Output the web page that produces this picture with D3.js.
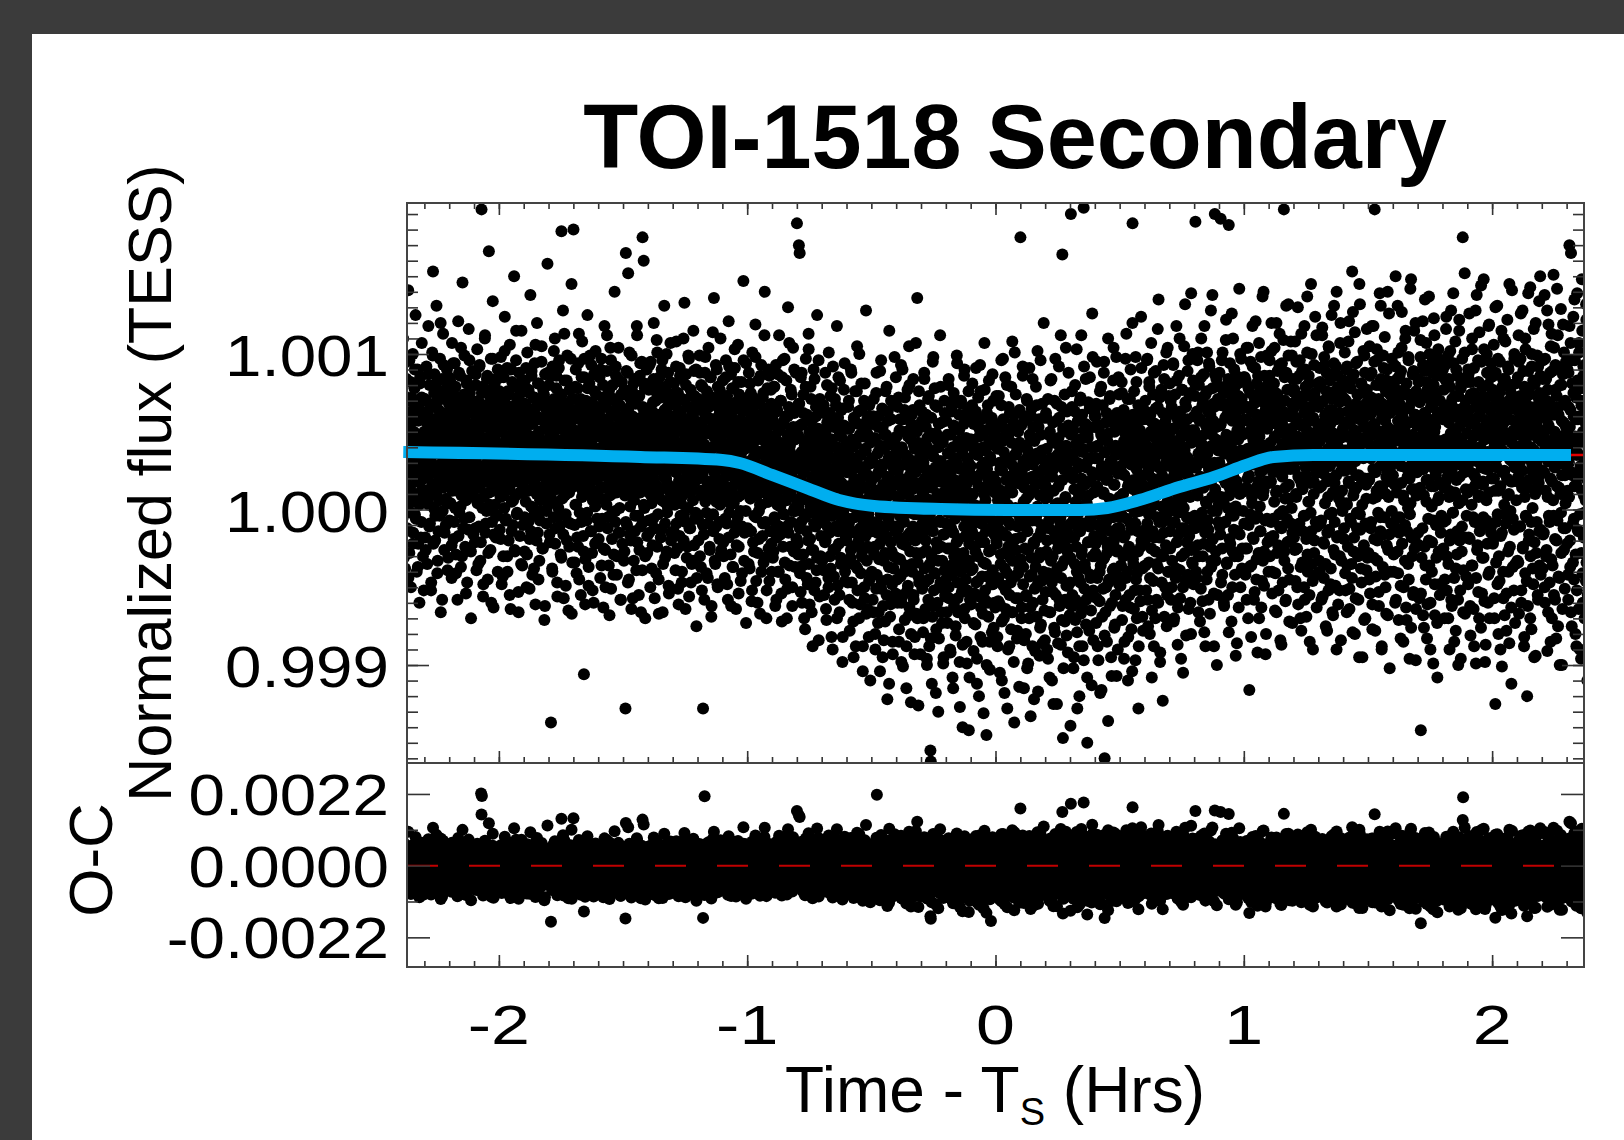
<!DOCTYPE html>
<html><head><meta charset="utf-8">
<script src="https://cdn.jsdelivr.net/npm/d3@7"></script>
<style>html,body{margin:0;padding:0;background:#3b3b3b;}svg{display:block}</style>
</head><body><svg id="c" width="1624" height="1140"></svg>
<script>
// ---------------- DATA ----------------
const titleText = "TOI-1518 Secondary";
// start time (hours from T_S) of each 0.1-h phase bin
const binStart = [-2.4,-2.3,-2.2,-2.1,-2.0,-1.9,-1.8,-1.7,-1.6,-1.5,-1.4,-1.3,-1.2,-1.1,-1.0,-0.9,-0.8,-0.7,-0.6,-0.5,-0.4,-0.3,-0.2,-0.1,0.0,0.1,0.2,0.3,0.4,0.5,0.6,0.7,0.8,0.9,1.0,1.1,1.2,1.3,1.4,1.5,1.6,1.7,1.8,1.9,2.0,2.1,2.2,2.3];
const binWidth = 0.1;
// normalized flux per bin, units of 1e-5 (flux = 1 + v*1e-5), in time order within the bin (cadence set A)
const fluxBinsA = [
[168,52,12,88,-20,41,65,30,-5,110,47,8,73,25,-38,60,19,95,38,-12,55,2,141,33,70,-28,45,15,82,-50,28,63,5,37,100,-15,50,22,78,-3,43,125,10,58,-40,35,90,18,-22,67,40,-60,30,85,7,48,-8,72,26,44,-30,61,20,36],
[30,71,-18,44,9,92,56,-35,21,63,118,3,39,80,-9,49,27,-52,66,14,101,35,153,-22,58,11,87,42,-4,24,69,131,17,-41,53,36,-14,76,6,47,97,29,-66,60,20,84,40,-1,113,33,57,-26,15,74,45,-10,62,26,90,4,50,-31,38,68],
[45,-7,83,20,61,34,-44,107,12,55,77,-19,40,26,94,1,58,-29,36,72,15,-58,49,121,30,64,-2,43,86,23,-37,52,9,70,146,38,-12,59,18,99,41,-24,66,6,31,81,-47,54,27,13,116,46,-5,75,22,39,-70,62,33,89,10,50,-16,28],
[64,14,-21,48,87,31,-39,57,103,4,41,70,-11,25,93,52,-33,19,257,193,250,36,79,-56,46,8,65,28,112,-15,43,60,-1,84,22,-45,55,38,166,11,73,30,-26,97,49,16,-8,68,134,35,-63,58,24,81,3,44,-18,71,27,53,-4,90,39,12],
[29,76,-13,50,8,98,42,-48,65,20,35,-30,85,54,1,124,32,68,-6,46,17,91,-40,58,37,-20,74,13,106,44,-64,27,61,5,82,39,-10,51,23,150,66,-27,34,9,96,48,-3,71,19,56,-53,40,88,26,-17,62,11,45,115,31,-36,78,15,52],
[57,21,-27,83,40,5,67,-50,33,101,12,48,-8,75,28,-19,62,138,44,2,89,36,-42,55,18,72,-4,31,94,47,-61,25,66,10,120,39,-15,58,81,22,-33,50,6,69,35,-1,105,43,14,-25,77,30,59,-71,41,87,16,53,-9,64,26,158,37,3],
[42,80,-16,27,55,9,-137,63,35,-38,92,18,49,-5,71,30,110,-22,44,13,86,56,-47,24,67,1,39,96,-11,52,20,-29,74,179,33,7,61,128,45,-57,28,83,15,50,-3,68,37,-20,99,25,58,-65,41,11,77,32,-9,54,22,145,46,-34,64,19],
[180,26,71,-10,48,3,90,34,-41,59,17,78,-24,40,113,22,-2,66,51,-55,31,85,8,44,62,-17,37,-106,97,14,53,-32,70,27,-7,46,125,19,64,-49,35,81,10,57,-14,29,93,42,-28,68,6,50,-60,24,76,38,2,102,55,-21,33,88,12,47],
[34,-19,62,85,21,-44,50,7,97,39,-6,72,28,-63,55,14,118,44,-26,66,31,3,89,48,-12,58,20,-36,77,41,9,104,25,-51,63,35,-2,80,16,53,-29,70,140,30,-8,92,45,11,-42,60,23,84,-15,38,67,1,49,-58,27,74,13,56,-22,43],
[51,18,-33,77,40,9,-128,165,28,63,-10,46,88,152,24,-45,57,35,2,71,-20,43,99,14,60,-57,31,81,6,49,-14,38,68,25,-39,54,112,19,73,-4,45,30,-26,86,11,59,-66,36,95,22,175,-8,65,160,41,1,78,-30,26,52,12,90,-17,47],
[22,65,-7,40,93,15,-50,58,31,4,82,47,-23,69,19,120,36,-12,53,8,76,-41,43,27,101,61,-3,34,-67,50,85,13,38,-18,72,29,6,96,45,-35,57,21,131,64,-9,33,79,48,-27,17,55,2,88,39,-54,70,26,11,107,44,-15,60,30,74],
[59,30,-14,81,45,3,67,-39,24,108,50,12,-25,75,36,-61,55,19,91,41,-4,63,28,-47,84,9,52,34,-20,70,133,16,46,-8,87,38,-31,58,22,1,99,43,-56,66,27,-12,77,14,49,-35,61,31,6,115,40,-23,73,18,54,-2,90,35,-44,48],
[37,-6,71,20,54,99,-30,46,12,80,31,-52,64,23,-128,57,-16,42,245,88,5,60,35,-41,76,18,49,-9,104,27,66,-24,39,8,85,52,-62,30,72,15,-3,58,136,41,-33,68,21,93,-11,47,26,-48,79,10,55,33,-19,62,3,110,44,-26,70,36],
[48,83,-21,30,61,7,-44,55,26,96,40,-9,73,14,-58,50,121,35,-2,68,22,-29,87,44,11,59,-37,32,78,4,53,-15,91,38,25,-64,65,17,47,-5,106,29,-24,74,42,9,57,-46,36,82,19,-11,63,28,147,51,-33,70,13,39,-1,94,24,56],
[40,-12,63,18,88,31,-38,52,7,75,25,-59,44,101,13,-21,66,34,-4,57,20,119,38,-46,70,9,48,-28,83,27,-1,54,15,-67,61,36,93,3,45,-17,72,23,-34,50,11,140,30,-8,65,42,-52,19,78,5,56,-25,37,86,16,-14,47,28,68,-40],
[25,58,-31,11,79,36,-5,47,-62,20,93,33,-18,64,8,-40,51,27,112,-11,43,2,70,30,-54,16,85,39,-24,55,13,-3,97,35,-45,60,6,24,-70,48,18,130,-15,66,29,-36,41,9,77,-8,52,21,-50,34,104,14,-27,62,1,45,-1,88,26,-19],
[184,30,-22,48,2,170,68,165,-41,19,85,-8,37,-60,55,11,-29,74,24,-3,44,-77,16,97,33,-14,61,6,-48,28,113,-35,50,14,-19,79,-2,38,-66,21,58,9,-26,90,31,-52,43,4,-11,66,25,-39,125,17,-6,52,-84,35,0,71,13,-30,46,20],
[12,-33,49,21,-8,67,-55,30,3,88,-20,41,-71,15,56,-2,34,-44,101,9,-15,62,26,-38,45,-4,78,18,-90,33,-26,53,6,-58,71,23,-11,40,-1,118,14,-49,59,28,-22,36,-66,83,5,-31,47,17,-7,65,-82,25,-13,54,2,94,-40,31,-18,43],
[-20,38,7,-47,66,15,-9,52,-78,26,-31,90,4,-14,45,-60,33,11,-95,58,20,-5,76,-36,42,-23,12,105,-52,29,-2,63,-70,18,48,-12,35,-41,81,1,-27,54,-88,24,-8,70,14,-57,39,-17,128,6,-33,49,-64,22,-3,60,-46,31,9,-110,44,-25],
[19,-40,55,-8,30,-66,71,3,-24,45,-90,12,-51,88,220,-15,36,-73,24,60,-32,8,-104,41,-2,96,-46,27,-19,53,-62,14,-84,39,5,-28,76,-11,48,-55,21,-122,63,-5,33,-37,115,10,-69,42,-21,58,-1,-48,28,-93,68,16,-30,44,-58,2,-14,85],
[-31,47,8,-60,25,-12,72,-85,36,-4,58,-43,15,-98,40,-22,90,3,-55,29,-8,64,-71,18,-36,50,-115,10,-17,77,-49,33,-2,105,-63,22,-27,45,-80,6,61,-40,13,-11,84,-58,31,-93,39,-20,52,-3,-67,26,136,-34,43,-126,1,-47,67,17,-15,35],
[42,-18,63,-51,11,-79,30,-5,88,-38,20,-64,53,-26,7,-100,46,-13,71,-45,24,-88,37,-3,-155,-162,59,-30,14,-69,95,-9,34,-52,2,78,-41,27,-118,49,-21,66,-60,9,-33,40,-83,18,-7,112,-47,31,-24,56,-73,4,45,-16,-95,23,70,-39,12,-56],
[-9,57,-44,21,-73,36,-2,84,-57,13,-25,48,-92,29,-36,66,5,-108,40,-15,75,-62,19,-4,52,-81,33,-28,99,-47,8,-66,44,-19,61,-1,-127,26,-40,70,12,-53,37,-87,3,-31,55,-11,90,-70,24,-45,46,-6,-99,17,63,-35,30,-142,-22,41,-58,9],
[28,-61,45,-14,81,-38,10,-91,55,-24,36,-5,-74,63,-47,19,-112,39,-30,72,2,-56,47,-18,93,-82,23,-9,58,-43,14,-67,40,-131,30,-21,77,-52,6,-35,51,-100,26,-3,67,-60,16,-27,44,-85,34,-12,-170,-48,59,-7,87,-39,21,-76,49,-16,11,-63],
[-45,18,73,-22,41,-88,6,-59,55,-13,30,-105,46,-35,12,67,-72,25,-4,97,-49,37,-28,-118,52,9,-64,33,-17,80,-41,3,-90,48,-8,21,-55,62,-31,15,-77,43,-1,108,-66,28,-20,56,-137,35,-43,1,74,-26,19,-83,39,-11,50,-57,26,-38,64,-6],
[175,-32,54,-70,23,-9,86,-48,31,-115,14,60,-25,41,-80,7,-56,70,-14,38,-99,20,-2,91,-43,47,-63,11,-31,65,-7,-88,29,53,-21,-122,44,-51,17,-37,79,-4,-69,36,102,-18,24,-46,58,-94,9,-28,48,-74,33,-10,68,-58,16,-40,120,-1,27,-84],
[16,-53,62,-27,39,-90,8,71,-41,25,-12,-108,50,-66,33,-3,84,-47,21,-30,56,-125,12,-76,43,-19,97,-55,29,-5,68,-38,4,-86,46,-22,59,-62,18,-9,112,-44,34,-71,164,-15,52,-102,26,-33,74,-58,7,-24,41,-81,63,-1,30,-49,88,-16,22,-68],
[-47,-139,190,35,-18,66,-62,24,-7,51,-95,13,-35,80,-58,42,-24,103,-79,30,-3,57,-44,9,-120,45,-14,72,-67,20,-29,61,-88,37,-9,194,92,-51,16,-38,55,-74,27,4,-108,48,-21,69,-56,33,-11,85,-42,18,-65,40,-1,126,-30,53,-84,23,-17,63],
[33,-28,60,-73,14,95,-44,41,-10,-97,52,22,-59,76,-2,-36,48,-116,28,-19,67,-51,10,88,-31,-160,37,-66,56,-8,19,-85,44,-24,110,-47,25,-4,71,-62,31,-14,58,-107,5,40,-39,83,-21,16,-76,50,-1,-55,35,98,-27,62,-12,-90,27,-43,74,8],
[-12,57,-49,28,-3,82,-71,40,10,-30,64,-96,22,-17,49,-58,35,113,-6,-40,71,15,-82,45,-24,54,2,-63,90,29,-13,37,-104,184,61,-35,19,76,-52,33,-9,98,-45,26,-70,43,8,-27,67,-88,17,-1,51,-59,30,124,-20,58,-38,12,-78,46,3,-15],
[45,-20,70,8,-52,33,96,-9,58,-75,25,-34,82,14,-44,61,-2,107,38,-65,20,-14,74,47,-88,30,3,55,-27,89,18,-58,42,-5,66,-38,135,27,-18,50,-98,36,11,77,-47,22,-8,62,-30,93,16,-69,40,-1,57,-23,101,31,-55,48,6,-40,73,19],
[28,81,-14,45,-58,17,66,-33,38,4,93,-72,52,23,-8,74,-44,31,118,-21,59,10,-63,42,-2,86,35,-39,63,16,-96,48,-12,77,27,-50,55,1,105,40,-28,69,13,-81,34,-5,58,22,-42,96,47,-17,73,8,-60,30,139,-26,51,19,-35,83,44,-11],
[51,-4,73,185,27,-40,62,12,96,-23,44,-66,80,33,-10,58,21,-51,110,39,-2,67,-30,15,87,48,-79,30,-15,74,5,55,-45,101,36,-7,63,-58,26,92,19,-24,50,128,-37,41,8,78,-19,57,29,-88,66,190,13,-33,45,84,-1,24,-55,70,38,3],
[30,88,-11,54,187,-47,67,22,-25,101,43,5,75,-62,36,-8,59,17,122,48,-34,80,26,-55,63,183,9,-19,94,40,-4,69,-72,33,57,-27,110,21,-13,78,46,-42,61,2,86,35,-86,51,14,-30,73,27,142,-16,56,-50,38,97,11,-38,65,31,-1,82],
[49,-9,85,31,-42,66,14,104,-25,57,39,-70,78,22,-116,50,-3,95,36,-36,63,8,118,-18,45,29,-58,72,11,91,-6,54,-45,81,40,-92,60,18,-28,107,47,2,-14,76,33,-63,58,25,137,-33,69,12,-49,86,41,-7,64,-80,28,99,52,-21,37,74],
[58,17,96,-30,43,71,-8,120,34,-54,80,24,-17,62,5,104,47,-41,75,29,-66,55,12,89,-23,67,38,-3,113,50,-84,31,70,-12,94,21,-47,63,40,193,-27,85,7,-59,52,131,26,-6,77,45,-38,99,16,-72,60,33,-20,108,48,1,68,-15,84,36],
[41,-18,75,26,108,-46,59,8,84,-25,47,130,-61,33,70,-9,96,19,-37,55,-78,42,89,13,-14,67,31,-50,118,38,-4,79,22,-69,51,101,-29,62,5,86,36,-55,73,17,-2,145,45,-35,66,28,-90,57,10,93,-20,49,71,-42,24,112,40,-11,81,30],
[66,24,-33,91,44,-9,79,15,-58,53,117,33,-21,70,-44,98,27,4,61,-75,47,88,18,-15,72,39,-52,104,29,-3,83,55,-38,20,125,64,-66,11,49,-26,94,36,-8,76,-49,58,22,140,-18,41,86,-61,31,7,69,-30,107,46,-84,25,78,12,-1,52],
[29,83,-12,56,101,-41,38,70,4,-66,92,47,-24,63,18,121,-51,35,-6,78,26,-35,60,153,-79,44,9,87,-18,51,114,31,-57,68,14,-2,95,40,-30,74,22,-95,58,132,-13,46,81,-47,36,3,65,-27,102,53,-71,20,88,-9,43,16,-39,77,34,62],
[47,-28,72,19,105,-54,61,33,-8,88,41,-77,54,7,118,36,-19,193,66,24,-43,80,12,96,-33,50,-2,71,-62,39,139,28,-14,84,46,-90,59,15,-37,99,31,65,-5,111,43,-50,76,21,-23,90,53,-68,35,8,126,-16,62,27,-40,82,48,-1,69,38],
[22,64,-40,93,35,-11,77,150,-58,49,11,84,-27,57,101,-71,30,68,-5,44,-49,89,17,127,-22,60,38,-85,74,6,52,-33,110,27,-63,81,43,-14,65,1,98,-45,56,20,-3,142,36,-76,70,13,-30,87,48,-53,25,115,-19,61,40,-97,76,9,54,31],
[55,-15,82,36,-57,69,14,98,-142,45,-31,73,26,121,-68,50,9,89,-24,62,33,-45,107,19,-83,77,40,-6,58,137,-36,28,71,-60,46,94,2,-21,66,31,-99,80,15,112,-48,53,24,-10,86,39,-73,61,6,103,-27,44,70,-55,17,91,35,-4,63,27],
[38,90,-25,61,14,-70,84,45,-7,116,30,-52,67,21,99,-35,56,8,-90,79,42,-16,128,25,-62,71,50,-2,94,33,-44,60,11,108,-78,48,19,-29,86,39,-58,73,4,122,-20,54,29,-96,81,44,-11,65,175,245,-39,57,24,101,-67,36,13,85,-4,49],
[62,11,-48,87,30,126,-19,55,-81,74,42,3,103,-36,58,23,-64,91,47,-8,70,16,-99,66,138,-26,51,35,-53,82,9,114,-14,60,40,-76,95,27,-31,73,18,-5,148,45,-59,69,31,-87,57,6,100,-22,48,80,-42,26,119,-70,64,37,-12,85,20,52],
[33,77,-20,59,106,-57,41,12,-125,88,-34,66,27,131,-3,52,-80,71,38,-46,95,15,-17,62,48,-101,79,24,-40,110,56,3,-68,84,36,-9,67,-54,20,122,45,-27,90,10,-86,58,32,-1,75,-63,43,141,18,-37,68,51,-13,97,28,-73,81,39,6,55],
[48,-33,85,21,112,-67,54,30,-11,97,41,-52,70,14,128,-24,60,36,-88,79,8,-41,103,45,-5,66,-120,33,-62,89,19,-16,74,52,143,-30,40,-77,92,25,1,63,-48,116,38,-21,81,13,-94,57,29,-8,99,46,-58,72,17,134,-36,51,86,-13,34,65],
[71,25,-38,96,47,-15,63,138,-60,40,12,84,-26,58,-91,77,31,119,-4,52,-47,68,20,105,-32,44,-70,89,37,6,151,-55,61,27,-19,93,48,-83,73,15,-7,112,42,-43,66,34,-100,80,10,129,-28,57,22,-64,87,46,-12,101,29,-51,70,4,53,39],
[44,-22,90,31,-58,66,8,170,53,-37,107,165,24,-75,81,39,-9,124,60,-45,15,96,47,-29,72,-88,35,139,-13,58,21,-64,101,43,-3,78,28,-96,67,12,115,-41,50,86,-18,33,-70,93,56,6,132,-34,63,19,-55,88,41,-11,74,26,-79,99,37,52]
];
// cadence set B, interleaved in time with set A (same units)
const fluxBinsB = [
[20,58,41,-9,77,33,6,52,-31,69,25,47,-14,84,38,11,60,-44,29,96,15,55,-2,43,72,27,-22,63,35,8,90,49,-6,31,66,18,-37,57,40,3,81,24,-18,46,107,13,62,36,-52,50],
[48,12,-26,70,34,59,5,87,22,-11,44,66,30,-47,53,16,99,39,1,75,28,-20,57,43,9,82,-33,36,64,19,-4,51,120,26,71,-58,41,14,93,33,-15,60,46,7,78,24,-39,55,37,85],
[31,73,4,49,-23,62,18,94,40,-8,56,27,79,-41,45,12,67,35,-17,88,22,53,2,104,38,-30,61,15,47,74,-6,29,57,-54,83,42,10,65,-13,36,96,24,51,-27,70,19,44,8,62,33],
[55,21,-12,80,39,7,63,28,-35,48,92,14,57,-21,36,75,1,44,-48,67,25,110,40,-9,53,18,86,31,-28,60,46,3,77,23,-60,51,34,97,12,-16,65,42,26,-3,84,37,58,-40,19,70],
[16,62,37,-19,85,29,50,-43,71,9,41,102,24,-7,58,33,-30,76,47,13,64,-55,38,21,90,-14,55,30,6,79,43,-26,67,18,115,35,-2,52,25,-66,73,40,11,60,-35,46,83,28,-10,56],
[42,-5,68,26,91,38,-29,54,12,77,45,-51,63,20,-14,86,33,58,1,47,-38,72,24,106,40,-20,60,15,81,-45,50,31,-7,69,22,95,36,-25,57,9,74,44,-62,28,65,-1,53,18,88,39],
[24,69,-21,48,13,86,37,-40,58,29,102,5,63,-12,45,78,20,-56,52,35,91,-4,41,67,16,-31,74,27,57,-16,38,113,9,60,-49,46,83,22,-8,65,33,-24,54,18,97,40,-67,71,28,50],
[51,15,-34,79,40,3,62,-18,45,94,27,-45,58,20,71,-8,36,108,12,53,-27,85,31,-61,66,23,47,-2,78,38,-37,56,14,99,42,-14,69,26,-52,61,7,87,34,-22,49,74,19,-6,57,30],
[39,-11,66,25,90,47,-36,55,14,80,-25,42,69,6,-50,58,32,112,21,-5,75,44,-68,50,27,96,10,-19,63,36,-42,71,18,53,-1,86,40,-30,60,23,104,45,-15,67,12,-58,49,82,29,56],
[60,22,-27,74,37,-8,89,46,13,-47,65,30,101,-16,52,20,-64,77,41,8,56,-33,84,27,-4,69,35,118,-21,48,15,-55,73,39,94,-11,58,24,-39,66,44,3,81,31,-70,50,18,62,-28,43],
[28,77,-15,52,10,95,41,-38,63,22,-6,84,47,-57,35,70,16,109,-24,54,31,-45,79,12,61,38,-13,90,25,-66,57,43,5,74,-31,49,20,100,-2,66,34,-49,58,15,82,39,-20,71,27,53],
[45,8,69,-28,55,31,92,-9,40,75,-51,62,18,-17,86,36,4,58,-40,71,27,110,-3,49,14,-64,80,42,23,-24,66,35,97,-12,52,11,-47,73,29,61,-33,44,89,20,-6,57,38,-75,68,25],
[33,-20,64,21,88,44,-37,53,9,79,-10,41,68,-58,27,98,36,-2,60,17,-44,74,30,50,-26,85,12,-69,58,39,114,-14,47,24,71,-35,56,5,90,31,-50,66,19,-8,77,42,-29,52,15,62],
[57,19,-30,73,36,-6,85,24,50,-48,66,11,-18,92,40,4,61,-62,30,78,15,-37,55,27,103,-10,44,69,-23,34,8,82,-54,57,21,48,-1,72,38,-41,63,13,96,29,-15,52,43,-73,67,26],
[21,64,-35,48,9,81,30,-14,56,-52,40,72,17,-27,61,33,98,-5,45,12,-60,68,26,-19,52,3,86,37,-40,59,20,-9,75,28,112,-31,47,14,-70,63,36,5,90,23,-46,54,11,77,-22,40],
[12,55,-27,34,79,-8,46,20,-58,63,3,87,29,-40,51,14,-16,70,38,-72,25,96,-3,57,18,-34,42,6,83,31,-51,60,-10,22,107,44,-24,36,9,74,-62,28,53,-1,90,15,-37,65,33,-19],
[5,46,-29,68,17,-12,54,-53,31,88,8,-36,62,24,-70,41,-5,79,13,-44,57,29,-20,103,36,-61,48,2,71,-26,20,-88,52,11,-9,84,33,-47,60,16,-31,45,-2,96,27,-56,39,9,-17,66],
[-8,41,18,-39,62,4,-21,50,-64,27,80,-11,36,-50,58,10,-30,73,22,-82,45,-4,92,15,-43,56,1,-25,67,32,-70,40,-14,85,19,-55,49,7,-35,64,26,-98,38,-1,77,12,-46,53,-18,30],
[24,-35,52,-6,70,-58,31,12,-26,88,-47,40,2,-72,59,18,-15,44,-88,27,76,-38,9,55,-20,100,-61,35,-3,64,-30,14,-104,47,22,-50,81,-9,38,-67,5,58,-24,29,-82,67,-12,43,17,-41],
[-14,33,-58,60,5,-29,46,-80,21,75,-42,12,-9,53,-66,38,-22,89,-3,-51,29,65,-95,16,-33,48,2,-72,41,-17,79,8,-45,57,-6,-112,34,20,-61,70,-27,10,-85,44,-38,26,98,-11,-54,37],
[30,-45,66,-18,8,-77,51,-32,20,93,-60,39,-7,-101,58,14,-40,72,-23,35,-88,11,-52,47,3,-68,80,-15,27,-124,55,-35,18,64,-55,41,-3,-82,24,107,-28,50,-70,6,-43,76,-12,33,-93,16],
[-28,57,-9,32,-70,12,84,-47,26,-20,61,-96,40,-4,-58,73,17,-35,49,-83,6,-112,36,-14,98,-62,22,-41,67,1,-77,45,-25,10,-130,55,-50,31,-8,79,-66,19,-33,43,-99,28,-16,62,-55,8],
[16,-66,48,-25,80,-50,2,37,-90,24,-12,63,-42,9,-115,54,-30,71,-6,-75,31,-21,94,-57,14,-36,51,-98,27,-3,68,-48,19,-140,40,-28,86,-64,7,-17,58,-85,33,-52,11,76,-33,-108,45,-10],
[-39,22,67,-16,44,-73,3,-54,59,-27,91,-8,-96,35,-46,15,-120,52,-21,76,-63,28,-2,-85,48,-34,10,107,-58,38,-14,-145,62,-43,20,-69,83,-5,-103,31,-26,55,-79,12,-48,70,-12,-60,41,0],
[52,-20,14,-82,39,-44,73,-7,-61,26,-29,96,-110,44,-15,58,-70,6,-38,85,-52,19,-3,-128,47,-24,66,-88,30,-10,-47,79,-66,11,-33,54,-98,23,101,-19,-57,36,-2,-78,62,-41,17,-114,43,-8],
[-18,41,-63,16,92,-37,5,-84,57,-11,28,-55,71,-102,34,-26,9,-70,48,-4,-133,60,-42,21,84,-60,13,-22,45,-91,32,-7,67,-49,2,-117,53,-31,24,-76,96,-14,-46,38,-86,18,-29,59,-65,10],
[7,-44,59,-20,31,-96,48,-7,-66,22,83,-33,12,-110,44,-53,26,-14,70,-79,3,-41,57,-125,35,-25,15,92,-58,40,-5,-87,66,-36,19,-147,50,-18,29,-72,8,104,-49,37,-27,-92,54,-10,23,-61],
[-31,48,-9,76,-55,20,-102,36,-18,63,-71,5,42,-40,-128,57,-12,27,-88,70,-47,14,112,-26,-63,39,2,-97,51,-35,18,84,-58,30,-150,46,-21,9,-78,65,-6,-44,33,-113,24,98,-52,11,-30,60],
[40,-22,68,-57,15,-88,33,-3,54,-40,-118,25,79,-14,-69,46,-32,11,95,-81,37,-8,-50,62,-28,20,-136,49,-45,7,73,-21,-95,30,-60,56,-5,104,-38,16,-74,41,-16,-107,58,-26,23,85,-48,4],
[-5,52,-36,24,75,-62,10,-18,44,-85,31,97,-44,4,60,-27,-110,39,17,-55,71,-9,33,-77,48,120,-32,13,-64,55,-2,-97,28,82,-41,39,-14,-128,63,21,-52,46,-24,91,6,-69,35,-37,58,15],
[22,-36,63,-12,41,97,-58,27,-3,79,-80,34,50,-25,-108,56,13,-46,88,-18,31,-70,65,9,-35,47,116,-60,19,-8,72,-92,38,-29,54,2,-123,43,-15,84,28,-50,61,-4,-75,36,104,-40,17,49],
[35,-25,70,12,-50,52,-9,94,28,-70,61,-1,40,-38,83,19,-87,57,-16,31,110,-57,46,4,-30,77,24,-105,55,-12,38,132,-45,66,9,-21,89,33,-64,50,-6,75,16,-80,43,-34,100,27,-48,60],
[48,-12,80,27,-44,63,9,101,36,-30,57,-72,20,85,-5,42,-59,70,14,-22,118,33,-88,54,4,76,-40,38,-13,94,25,-67,61,17,-33,48,138,-1,68,-54,30,87,11,-27,53,-100,40,71,-8,22],
[30,79,-16,55,8,96,-42,44,20,-60,68,36,-8,109,25,-35,61,1,84,-79,47,14,-22,74,40,126,-50,29,58,-4,90,-30,37,-94,66,18,-14,81,45,-63,53,10,100,-40,33,71,-25,48,12,85],
[58,12,-25,83,37,-58,66,20,104,-10,49,-37,75,29,-82,55,4,92,41,-19,68,-53,33,121,14,-32,61,-4,86,43,-70,52,24,-14,98,35,-46,72,9,140,-27,57,30,-93,64,18,-6,80,39,-40],
[40,86,-18,55,18,102,-40,67,28,-6,81,46,-65,59,11,120,-28,74,35,-52,49,93,-11,63,23,-87,56,42,-1,109,31,-33,70,14,-58,88,45,-21,61,132,7,-45,77,26,-9,52,99,-73,38,65],
[30,77,-26,58,10,95,41,-50,68,21,-11,86,35,-70,54,113,16,-34,73,45,-4,62,-58,90,27,-19,56,137,-40,39,81,5,-85,66,32,-14,100,48,-46,59,18,-28,75,124,-8,44,-63,70,24,52],
[55,14,-40,82,36,-7,69,112,-56,48,23,-22,93,60,-35,31,76,-78,52,8,105,-13,64,28,-48,87,43,-2,71,-68,38,131,17,-29,58,92,-90,46,11,-17,79,35,-52,62,120,4,-33,73,29,50],
[38,-19,71,25,-52,90,47,3,-36,63,108,17,-64,55,30,-8,84,-44,41,127,-27,66,12,-80,49,94,22,-12,74,36,-58,60,145,-3,43,-38,81,19,-95,57,33,-23,99,46,-70,68,7,116,-31,52],
[61,20,-45,86,37,-12,72,118,-61,48,26,-31,95,55,-78,35,8,103,-20,64,42,-53,80,15,-5,131,50,-88,68,29,-16,91,44,-42,57,10,-67,83,24,140,-26,62,39,-102,74,18,-9,97,51,33],
[44,-29,79,16,-60,92,51,-5,70,131,-41,33,-15,86,58,-83,28,104,-22,63,9,-50,77,38,-10,115,47,-71,56,21,-35,96,66,-96,40,4,148,-18,74,30,-55,89,13,-25,61,120,-64,46,24,55],
[31,84,-23,58,12,109,-54,71,40,-12,93,26,-76,62,135,-36,47,5,82,-61,54,19,-20,100,44,-90,66,15,-40,88,33,-7,123,50,-68,75,22,-31,59,-108,37,97,8,-48,70,28,-15,86,43,62],
[58,-8,77,30,-45,93,18,124,-30,61,42,-70,84,12,-20,102,49,-58,67,27,-2,139,36,-85,73,9,-38,90,52,-14,64,-100,45,115,21,-52,78,34,-27,97,6,-66,59,40,152,-18,70,-43,25,82],
[27,90,-18,64,35,-62,82,13,-36,110,47,-5,75,-88,56,21,128,-44,68,31,-23,96,8,-70,61,40,-11,144,52,-54,79,16,-31,103,45,-98,66,26,-7,88,37,-60,118,11,-40,73,49,-15,94,58],
[45,-22,86,20,-70,67,130,-8,54,33,-48,97,12,-30,75,42,-90,61,115,-15,38,84,-57,50,25,-3,108,62,-78,36,9,92,-40,70,145,-24,48,18,-112,80,31,-6,65,-52,100,27,-35,57,72,40],
[64,18,-34,95,40,-11,73,126,-60,51,25,-25,89,46,-82,34,110,-4,68,-46,57,14,139,-20,78,37,-70,61,-8,100,29,-38,83,48,-95,66,10,120,-28,55,32,-55,92,21,-14,75,150,-42,44,60],
[36,84,-16,60,24,-50,97,45,-30,70,128,8,-66,54,31,-8,88,-85,42,113,18,-36,66,-4,104,50,-58,77,28,-20,142,39,-75,61,14,-44,91,47,-2,80,-100,33,119,56,-26,69,22,-12,95,40],
[50,12,-42,88,30,118,-20,64,-66,41,96,22,-34,75,-6,135,46,-80,58,16,-52,83,36,-14,107,60,-90,27,70,-28,148,44,-60,92,9,-2,78,34,-46,122,55,-110,67,20,-22,86,40,-36,101,48]
];
// best-fit secondary eclipse model
const modelTime = [-2.385,-1.43,-1.10,-1.03,-0.90,-0.76,-0.63,-0.49,-0.22,0.05,0.34,0.45,0.58,0.74,0.88,1.01,1.12,1.28,2.37];
const modelFlux = [1.000370,1.000338,1.000318,1.000299,1.000222,1.000138,1.000061,1.000023,1.000003,0.999997,0.999997,1.000010,1.000061,1.000145,1.000209,1.000286,1.000338,1.000350,1.000350];
const modelDrawEnd = 2.318;
const xTickValues = [-2,-1,0,1,2];
const fluxTickValues = [0.999,1.000,1.001];
const ocTickValues = [-0.0022,0,0.0022];
const ocMinorTickValues = [-0.0011,0.0011];

// ---------------- LAYOUT ----------------
const L = 407, R = 1584, T = 203, M = 763, B = 967;
const FONT = "'Liberation Sans', Arial, Helvetica, sans-serif";
const DOT_R = 6;
const svg = d3.select("#c");
svg.append("rect").attr("x",0).attr("y",0).attr("width",1624).attr("height",1140).attr("fill","#3b3b3b");
svg.append("rect").attr("x",32).attr("y",34).attr("width",1592).attr("height",1106).attr("fill","#ffffff");

const x = d3.scaleLinear().domain([-2.37, 2.37]).range([L, R]);
const yUp = d3.scaleLinear().domain([0.99837, 1.001971]).range([M, T]);
const yLow = d3.scaleLinear().domain([-0.00311, 0.00315]).range([B, M]);
const model = d3.scaleLinear().domain(modelTime).range(modelFlux);

// build points (observed flux, and O-C = observed - model)
const points = [];
[fluxBinsA, fluxBinsB].forEach((set, s) => {
  set.forEach((vals, k) => {
    const n = vals.length;
    vals.forEach((v, i) => {
      const t = binStart[k] + (i + 0.25 + 0.5 * s) / n * binWidth;
      const f = 1 + v * 1e-5;
      points.push({t, f, oc: f - model(t)});
    });
  });
});

const defs = svg.append("defs");
defs.append("clipPath").attr("id","clipUp").append("rect").attr("x",L).attr("y",T).attr("width",R-L).attr("height",M-T);
defs.append("clipPath").attr("id","clipLow").append("rect").attr("x",L).attr("y",M).attr("width",R-L).attr("height",B-M);
defs.append("clipPath").attr("id","clipModel").append("rect").attr("x",0).attr("y",T).attr("width",x(modelDrawEnd)).attr("height",M-T);

// upper panel points
svg.append("g").attr("clip-path","url(#clipUp)")
  .selectAll("circle").data(points).join("circle")
  .attr("cx", d => x(d.t)).attr("cy", d => yUp(d.f)).attr("r", DOT_R).attr("fill","#000");

// model lines
const modelPts = modelTime.map((t,i) => [t, modelFlux[i]]);
const line = d3.line().x(d => x(d[0])).y(d => yUp(d[1])).curve(d3.curveMonotoneX);
svg.append("path").attr("d", line(modelPts)).attr("fill","none").attr("stroke","#e00000").attr("stroke-width",2.5)
  .attr("clip-path","url(#clipUp)");
svg.append("path").attr("d", line(modelPts)).attr("fill","none").attr("stroke","#00aeef").attr("stroke-width",12)
  .attr("clip-path","url(#clipModel)");

// lower panel points
svg.append("g").attr("clip-path","url(#clipLow)")
  .selectAll("circle").data(points).join("circle")
  .attr("cx", d => x(d.t)).attr("cy", d => yLow(d.oc)).attr("r", DOT_R).attr("fill","#000");
svg.append("line").attr("x1",L).attr("x2",R).attr("y1",yLow(0)).attr("y2",yLow(0))
  .attr("stroke","#c00000").attr("stroke-width",2).attr("stroke-dasharray","31,31");

// ---------------- AXES / TICKS ----------------
const tickColor = "#333";
function styleAxis(g){ g.select(".domain").remove(); g.selectAll("line").attr("stroke",tickColor).attr("stroke-width",1.6); g.selectAll("text").remove(); }
const xMinor = d3.range(-23, 24).map(v => v / 10);
const fluxMinor = d3.range(9984, 10020).map(v => v / 10000);

[[d3.axisTop, T], [d3.axisBottom, M], [d3.axisBottom, B]].forEach(([ax, yy]) => {
  svg.append("g").attr("transform",`translate(0,${yy})`).call(ax(x).tickValues(xMinor).tickSize(-6).tickFormat("")).call(styleAxis);
  svg.append("g").attr("transform",`translate(0,${yy})`).call(ax(x).tickValues(xTickValues).tickSize(-12).tickFormat("")).call(styleAxis);
});
svg.append("g").attr("transform",`translate(${L},0)`).call(d3.axisLeft(yUp).tickValues(fluxMinor).tickSize(-11).tickFormat("")).call(styleAxis);
svg.append("g").attr("transform",`translate(${L},0)`).call(d3.axisLeft(yUp).tickValues(fluxTickValues).tickSize(-22).tickFormat("")).call(styleAxis);
svg.append("g").attr("transform",`translate(${R},0)`).call(d3.axisRight(yUp).tickValues(fluxMinor).tickSize(-11).tickFormat("")).call(styleAxis);
svg.append("g").attr("transform",`translate(${R},0)`).call(d3.axisRight(yUp).tickValues(fluxTickValues).tickSize(-22).tickFormat("")).call(styleAxis);
svg.append("g").attr("transform",`translate(${L},0)`).call(d3.axisLeft(yLow).tickValues(ocMinorTickValues).tickSize(-11).tickFormat("")).call(styleAxis);
svg.append("g").attr("transform",`translate(${L},0)`).call(d3.axisLeft(yLow).tickValues(ocTickValues).tickSize(-23).tickFormat("")).call(styleAxis);
svg.append("g").attr("transform",`translate(${R},0)`).call(d3.axisRight(yLow).tickValues(ocMinorTickValues).tickSize(-11).tickFormat("")).call(styleAxis);
svg.append("g").attr("transform",`translate(${R},0)`).call(d3.axisRight(yLow).tickValues(ocTickValues).tickSize(-23).tickFormat("")).call(styleAxis);

// frames
svg.append("rect").attr("x",L).attr("y",T).attr("width",R-L).attr("height",M-T).attr("fill","none").attr("stroke","#444").attr("stroke-width",2);
svg.append("rect").attr("x",L).attr("y",M).attr("width",R-L).attr("height",B-M).attr("fill","none").attr("stroke","#444").attr("stroke-width",2);

// ---------------- LABELS ----------------
const loc = d3.formatLocale({decimal:".", thousands:",", grouping:[3], currency:["",""], minus:"-"});
const fmtX = loc.format("d"), fmtUp = loc.format(".3f"), fmtLow = loc.format(".4f");

svg.append("g").selectAll("text").data(xTickValues).join("text")
  .attr("transform", d => `translate(${x(d)},1044) scale(1.25,1)`)
  .attr("text-anchor","middle").attr("font-family",FONT).attr("font-size",56).attr("fill","#000")
  .text(d => fmtX(d));
svg.append("g").selectAll("text").data(fluxTickValues).join("text")
  .attr("transform", d => `translate(389,${yUp(d)+22}) scale(1.15,1)`)
  .attr("text-anchor","end").attr("font-family",FONT).attr("font-size",57).attr("fill","#000")
  .text(d => fmtUp(d));
svg.append("g").selectAll("text").data(ocTickValues).join("text")
  .attr("transform", d => `translate(389,${yLow(d)+21}) scale(1.15,1)`)
  .attr("text-anchor","end").attr("font-family",FONT).attr("font-size",57).attr("fill","#000")
  .text(d => fmtLow(d));

svg.append("text").attr("x",1015).attr("y",168).attr("text-anchor","middle")
  .attr("font-family",FONT).attr("font-weight","bold").attr("font-size",90).attr("fill","#000").text(titleText);

svg.append("text").attr("transform","translate(171,483) rotate(-90)").attr("text-anchor","middle")
  .attr("font-family",FONT).attr("font-size",61).attr("fill","#000").text("Normalized flux (TESS)");
svg.append("text").attr("transform","translate(112,860) rotate(-90)").attr("text-anchor","middle")
  .attr("font-family",FONT).attr("font-size",62).attr("fill","#000").text("O-C");

const xt = svg.append("text").attr("x",995).attr("y",1112).attr("text-anchor","middle")
  .attr("font-family",FONT).attr("font-size",64).attr("fill","#000");
xt.append("tspan").text("Time - T");
xt.append("tspan").attr("font-size",38).attr("dy",13).text("S");
xt.append("tspan").attr("dy",-13).text(" (Hrs)");
</script>
</body></html>
